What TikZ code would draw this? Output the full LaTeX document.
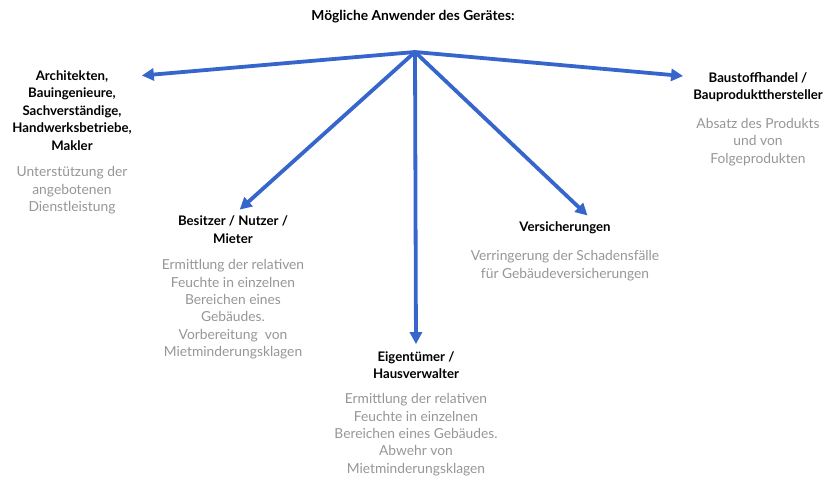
\documentclass[tikz,border=0pt]{standalone}
\usepackage{fontspec}
\setmainfont{Lato}
\usetikzlibrary{arrows.meta,positioning}
\definecolor{userblue}{RGB}{54,101,204}
\definecolor{descgray}{RGB}{150,150,150}

\begin{document}
\begin{tikzpicture}[x=1pt, y=-1pt,
    who/.style={align=center, inner sep=0pt, font=\fontsize{13.2}{17.4}\selectfont\bfseries},
    what/.style={align=center, inner sep=0pt, text=descgray, font=\fontsize{13.8}{17.4}\selectfont},
    arr/.style={-{Triangle[length=12pt, width=12pt]}, line width=3.8pt, draw=userblue}
]
\useasboundingbox (0,0) rectangle (824,477);

\node[who, font=\fontsize{13.8}{17.4}\selectfont\bfseries] (title) at (413,17) {Mögliche Anwender des Gerätes:};
\coordinate (hub) at (415,52);

\node[who] (arch) at (72,110.5) {Architekten,\\Bauingenieure,\\Sachverständige,\\Handwerksbetriebe,\\Makler};
\node[what, below=16pt of arch] (archtxt) {Unterstützung der\\angebotenen\\Dienstleistung};

\node[who] (bau) at (758,87) {Baustoffhandel /\\Bauproduktthersteller};
\node[what, below=16pt of bau] (bautxt) {Absatz des Produkts\\und von\\Folgeprodukten};

\node[who] (bes) at (233,229.5) {Besitzer / Nutzer /\\Mieter};
\node[what, below=16pt of bes] (bestxt) {Ermittlung der relativen\\Feuchte in einzelnen\\Bereichen eines\\Gebäudes.\\Vorbereitung\ \ von\\Mietminderungsklagen};

\node[who] (vers) at (565,228) {Versicherungen};
\node[what, below=16pt of vers] (verstxt) {Verringerung der Schadensfälle\\für Gebäudeversicherungen};

\node[who] (eig) at (416,365) {Eigentümer /\\Hausverwalter};
\node[what, below=14.5pt of eig] (eigtxt) {Ermittlung der relativen\\Feuchte in einzelnen\\Bereichen eines Gebäudes.\\Abwehr von\\Mietminderungsklagen};

\draw[arr] (hub) -- ([shift={(10,5)}]arch.north east);
\draw[arr] (hub) -- ([shift={(-10,4)}]bau.north west);
\draw[arr, shorten >=9pt] (hub) -- (bes.north);
\draw[arr, shorten >=7pt] (hub) -- (eig.north);
\draw[arr, shorten >=9pt] (hub) -- ([xshift=29pt]vers.north);
\end{tikzpicture}
\end{document}
